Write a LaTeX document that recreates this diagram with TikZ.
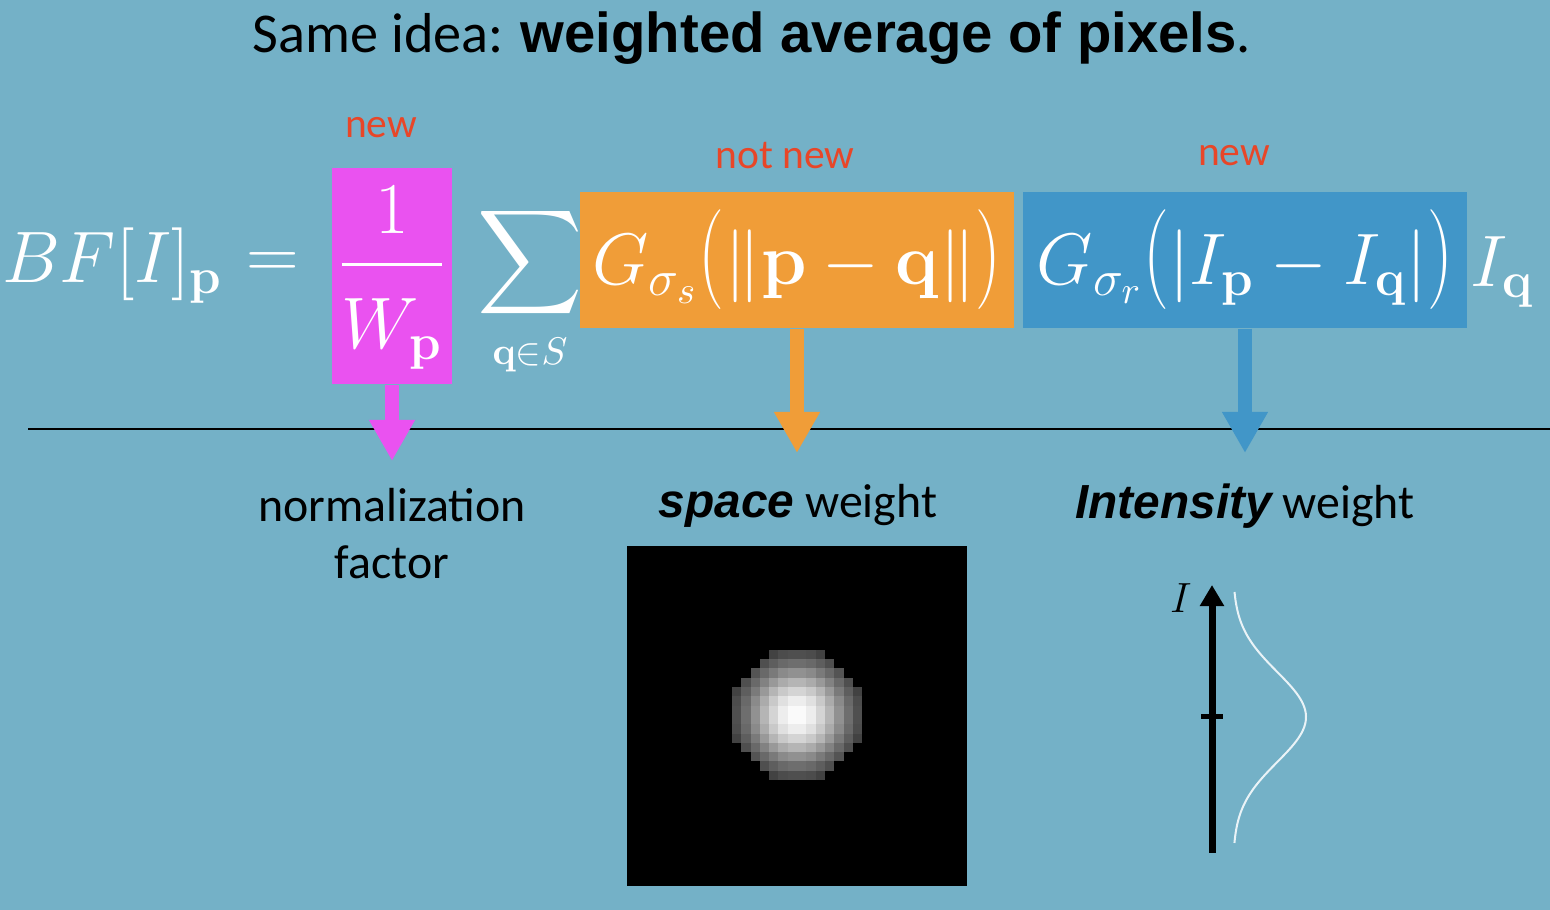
\documentclass[tikz,border=0pt]{standalone}
\usepackage{amsmath}
\usepackage[no-math]{fontspec}
\setmainfont{Carlito}
\newfontfamily\arialfont{Liberation Sans}
\usetikzlibrary{arrows.meta,positioning}
\definecolor{slideBlue}{RGB}{116,177,199}
\definecolor{normPink}{RGB}{234,82,240}
\definecolor{spaceOrange}{RGB}{240,157,56}
\definecolor{rangeBlue}{RGB}{65,150,200}
\definecolor{noteRed}{RGB}{232,70,40}
\newcommand{\tallopen}{\mathopen{\scalebox{1}[1.37]{$($}}}
\newcommand{\tallclose}{\mathclose{\scalebox{1}[1.37]{$)$}}}

\begin{document}
\begin{tikzpicture}[
  x=0.01cm,
  y=-0.01cm,
  term/.style={
    inner sep=0pt,
    text=white,
    font=\fontsize{22}{26}\selectfont
  },
  termbox/.style={term, minimum height=1.36cm},
  note/.style={text=noteRed, font=\fontsize{11.8}{14}\selectfont},
  weightlabel/.style={align=center, font=\fontsize{13.6}{16.2}\selectfont},
  arrow/.style={-{Triangle[width=0.43cm,length=0.41cm]}, line width=0.14cm}
]
  \clip (0,0) rectangle (1550,910);
  \fill[slideBlue] (0,0) rectangle (1550,910);

  \node[font=\fontsize{16}{19}\selectfont] (title) at (752,38)
    {Same idea: {\arialfont\bfseries weighted average of pixels}.};

  % the filter formula
  \node[term, anchor=base east] (lhs) at (224,283) {$BF[I]_{\mathbf p}$};
  \node[term] (equals) at (273,266) {$=$};
  \node[termbox, fill=normPink, minimum width=1.2cm, minimum height=2.16cm] (norm)
    at (392,276) {};
  \node[term, anchor=base] (normfrac) at (392,283)
    {$\dfrac{1}{\rule{0pt}{0.95em}W_{\mathbf p}}$};
  \node[term] (sum) at (530,292) {$\displaystyle\sum_{\scriptscriptstyle\mathbf q\in S}$};
  \node[termbox, fill=spaceOrange, minimum width=4.34cm] (space) at (797,260)
    {$G_{\sigma_s}\tallopen\|\mathbf p-\mathbf q\|\tallclose$};
  \node[termbox, fill=rangeBlue, minimum width=4.44cm] (range) at (1245,260)
    {$G_{\sigma_r}\tallopen|I_{\mathbf p}-I_{\mathbf q}|\tallclose$};
  \node[term, anchor=west] (iq) at (1470,272) {$I_{\mathbf q}$};

  \node[note] (newnorm) at (381,128) {new};
  \node[note] (notnew) at (785,156) {not new};
  \node[note] (newrange) at (1234,156) {new};

  \coordinate (ruleL) at (28,429);
  \coordinate (ruleR) at (1550,429);
  \draw[line width=0.02cm] (ruleL) -- (ruleR);

  \coordinate (normtip) at (392,461);
  \coordinate (spacetip) at (797,453);
  \coordinate (rangetip) at (1245,453);
  \draw[arrow, normPink] (norm) -- (normtip);
  \draw[arrow, spaceOrange] (space) -- (spacetip);
  \draw[arrow, rangeBlue] (range) -- (rangetip);

  \node[weightlabel] (normlabel) at (392,534) {normalization\\factor};
  \node[weightlabel] (spacelabel) at (798,506)
    {{\arialfont\bfseries\itshape space} weight};
  \node[weightlabel] (rangelabel) at (1245,506)
    {{\arialfont\bfseries\itshape Intensity} weight};

  % spatial kernel
  \node[fill=black, minimum size=3.4cm, inner sep=0pt] (kernel) at (797,716) {};
  \foreach \i in {-7,...,6}{
    \foreach \j in {-7,...,6}{
      \pgfmathsetmacro\rsq{(\i+0.5)*(\i+0.5)+(\j+0.5)*(\j+0.5)}
      \pgfmathtruncatemacro\blobgray{\rsq<49 ? 100*exp(-\rsq/37) : 0}
      \fill[white!\blobgray!black] ({797+9.3*\i},{715+9.3*\j}) rectangle ++(9.4,9.4);
    }
  }

  % range kernel
  \coordinate (axisbot) at (1212,853);
  \coordinate (axistop) at (1212,585);
  \draw[line width=0.07cm, -{Triangle[width=0.23cm,length=0.21cm]}] (axisbot) -- (axistop);
  \draw[line width=0.05cm] (1201,717) -- (1223,717);
  \node[font=\fontsize{13}{15}\selectfont] (axislabel) at (1181,598) {$I$};
  \draw[white!85!slideBlue, line width=0.02cm]
    plot[domain=592:843, samples=90, smooth]
    ({1233+73*exp(-0.5*((\x-717)/45)*((\x-717)/45))}, \x);
\end{tikzpicture}
\end{document}
